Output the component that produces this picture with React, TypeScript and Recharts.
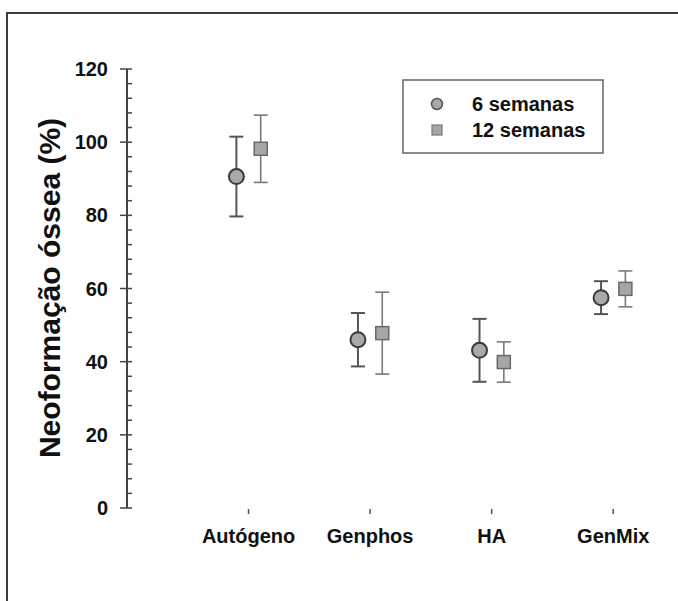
import React from 'react'
import {
    ScatterChart,
    Scatter,
    XAxis,
    YAxis,
    ErrorBar,
    Legend,
} from 'recharts'

// groups on the x axis
const categories = ['Autógeno', 'Genphos', 'HA', 'GenMix']
const categoryPos = [1, 2, 3, 4]

// 6 semanas: mean and error
const mean6 = [90.6, 46.0, 43.1, 57.5]
const err6 = [10.9, 7.3, 8.6, 4.5]

// 12 semanas
const mean12 = [98.2, 47.8, 39.9, 59.9]
const err12 = [9.2, 11.2, 5.5, 4.9]

const yTicks = [0, 4, 8, 12, 16, 20, 24, 28, 32, 36, 40, 44, 48, 52, 56, 60, 64, 68, 72, 76, 80, 84, 88, 92, 96, 100, 104, 108, 112, 116, 120]
const yMajor = [0, 20, 40, 60, 80, 100, 120]

const FONT = '"Liberation Sans", Arial, Helvetica, sans-serif'
const SHIFT = 0.1

const data6 = categoryPos.map((p, i) => ({ x: p - SHIFT, y: mean6[i], err: err6[i] }))
const data12 = categoryPos.map((p, i) => ({ x: p + SHIFT, y: mean12[i], err: err12[i] }))

const CircleDot = (props: any) => {
    const { cx, cy } = props
    return <circle cx={cx} cy={cy} r={7.5} fill="#a9a9a9" stroke="#3a3a3a" strokeWidth={2} />
}

const SquareDot = (props: any) => {
    const { cx, cy } = props
    return <rect x={cx - 6.5} y={cy - 6.5} width={13} height={13} fill="#a6a6a6" stroke="#686868" strokeWidth={1.5} />
}

const YTick = (props: any) => {
    const { x, y, payload } = props
    const major = yMajor.includes(payload.value)
    return (
        <g>
            <line x1={major ? x - 7 : x} x2={x + 5} y1={y} y2={y} stroke="#444" strokeWidth={1.5} />
            {major && (
                <text x={x - 19} y={y + 7} textAnchor="end" fontSize={20} fontWeight="bold" fontFamily={FONT} fill="#111">
                    {payload.value}
                </text>
            )}
        </g>
    )
}

const XTick = (props: any) => {
    const { x, y, payload } = props
    const idx = categoryPos.indexOf(payload.value)
    return (
        <g>
            <line x1={x} x2={x} y1={y + 1} y2={y + 6} stroke="#555" strokeWidth={1.5} />
            <text x={x} y={y + 35} textAnchor="middle" fontSize={20} fontWeight="bold" fontFamily={FONT} fill="#111">
                {categories[idx]}
            </text>
        </g>
    )
}

const LegendBox = () => (
    <svg width={202} height={75} style={{ display: 'block' }}>
        <rect x={1} y={1} width={200} height={73} fill="#fff" stroke="#666" strokeWidth={1.5} />
        <circle cx={35} cy={25} r={5.5} fill="#a9a9a9" stroke="#555" strokeWidth={1.5} />
        <rect x={30} y={46} width={10} height={10} fill="#a6a6a6" stroke="#777" strokeWidth={1.2} />
        <text x={70} y={32} fontSize={20} fontWeight="bold" fontFamily={FONT} fill="#111">6 semanas</text>
        <text x={70} y={58} fontSize={20} fontWeight="bold" fontFamily={FONT} fill="#111">12 semanas</text>
    </svg>
)

export default function App() {
    return (
        <div style={{ position: 'fixed', left: 0, top: 0, width: 678, height: 601, overflow: 'hidden', background: '#fff' }}>
            <div
                style={{
                    position: 'absolute',
                    left: 6,
                    top: 12,
                    width: 720,
                    height: 640,
                    borderLeft: '2px solid #3c3c3c',
                    borderTop: '2px solid #3c3c3c',
                }}
            />
            <div style={{ position: 'absolute', left: 0, top: 0 }}>
                <ScatterChart width={678} height={601} margin={{ top: 69, right: 4, left: 0, bottom: 0 }}>
                    <XAxis
                        type="number"
                        dataKey="x"
                        domain={[0, 4.5]}
                        ticks={categoryPos}
                        axisLine={false}
                        tickLine={false}
                        tickSize={0}
                        tickMargin={0}
                        height={93}
                        tick={<XTick />}
                        interval={0}
                    />
                    <YAxis
                        type="number"
                        dataKey="y"
                        domain={[0, 120]}
                        ticks={yTicks}
                        width={127}
                        axisLine={{ stroke: '#444', strokeWidth: 2 }}
                        tickLine={false}
                        tickSize={0}
                        tickMargin={0}
                        interval={0}
                        tick={<YTick />}
                        label={{
                            content: () => (
                                <text
                                    x={60}
                                    y={288}
                                    transform="rotate(-90 60 288)"
                                    textAnchor="middle"
                                    fontSize={30}
                                    fontWeight="bold"
                                    fontFamily={FONT}
                                    fill="#111"
                                >
                                    Neoformação óssea (%)
                                </text>
                            ),
                        }}
                    />
                    <Legend
                        layout="horizontal"
                        verticalAlign="middle"
                        align="center"
                        wrapperStyle={{ left: 402, top: 79, width: 202, height: 75 }}
                        content={() => <LegendBox />}
                    />
                    <Scatter name="6 semanas" data={data6} shape={<CircleDot />} isAnimationActive={false}>
                        <ErrorBar dataKey="err" direction="y" width={7} stroke="#555" strokeWidth={2} isAnimationActive={false} />
                    </Scatter>
                    <Scatter name="12 semanas" data={data12} shape={<SquareDot />} isAnimationActive={false}>
                        <ErrorBar dataKey="err" direction="y" width={7} stroke="#7a7a7a" strokeWidth={1.6} isAnimationActive={false} />
                    </Scatter>
                </ScatterChart>
            </div>
        </div>
    )
}
